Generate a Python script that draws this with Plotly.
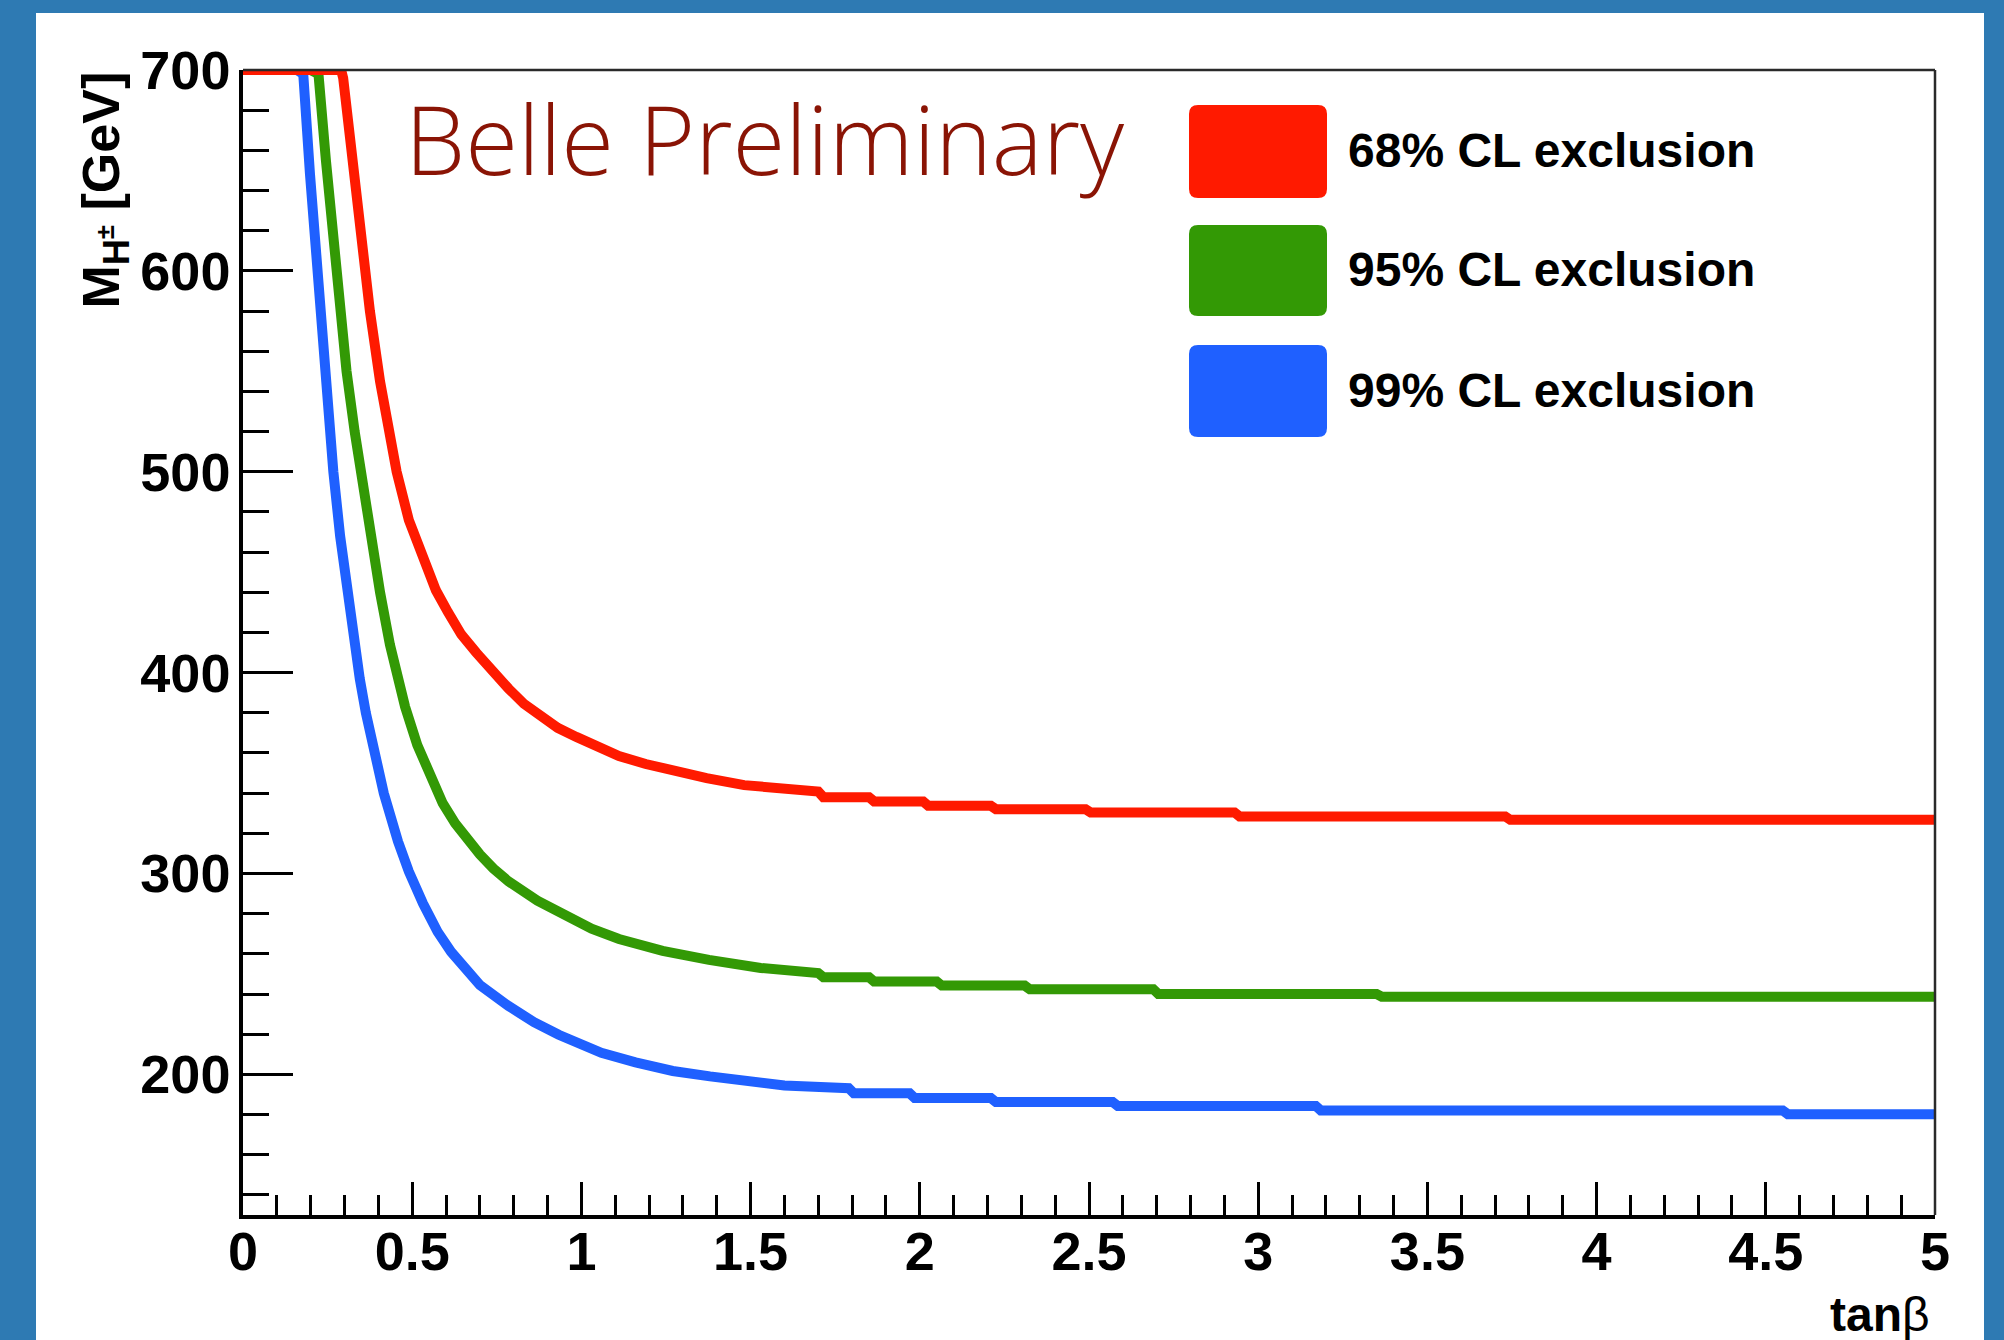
import plotly.graph_objects as go

# Exclusion contours in the (tanβ, M_H±) plane
tanb_68 = [0, 0.28, 0.29, 0.296, 0.316, 0.336, 0.355, 0.375, 0.405, 0.43, 0.454, 0.49,
           0.533, 0.57, 0.606, 0.645, 0.689, 0.74, 0.785, 0.83, 0.88, 0.93, 0.985, 1.05,
           1.111, 1.19, 1.27, 1.37, 1.481, 1.59, 1.70, 1.715, 1.85, 1.865, 2.01, 2.025,
           2.21, 2.225, 2.49, 2.505, 2.93, 2.945, 3.73, 3.745, 5.0]
mass_68 = [700, 700, 700, 696, 665, 634, 606, 580, 545, 521, 500, 476,
           456, 441, 430, 419, 410, 400, 392, 384.5, 378, 372.5, 368, 363,
           358.5, 354.5, 351, 347.5, 344, 342, 340.8, 338, 338, 335.9, 335.9, 333.7,
           333.7, 332, 332, 330.4, 330.4, 328.4, 328.4, 326.7, 326.7]

tanb_95 = [0.20, 0.223, 0.245, 0.267, 0.287, 0.306, 0.33, 0.356, 0.38, 0.405, 0.434,
           0.479, 0.515, 0.553, 0.59, 0.627, 0.665, 0.70, 0.74, 0.785, 0.87, 0.954,
           1.03, 1.111, 1.24, 1.377, 1.53, 1.70, 1.715, 1.85, 1.865, 2.05, 2.065, 2.31,
           2.325, 2.69, 2.705, 3.35, 3.365, 5.0]
mass_95 = [700, 698, 655, 612, 578, 550, 520, 490, 464, 440, 414,
           383, 364, 348, 335, 325, 316.5, 309.5, 302.5, 296, 286.5, 278.4,
           272.5, 267.4, 261.5, 257, 253, 250.4, 248.4, 248.4, 246.2, 246.2, 244.2, 244.2,
           242.4, 242.4, 240, 240, 238.7, 238.7]

tanb_99 = [0.16, 0.178, 0.198, 0.218, 0.232, 0.247, 0.267, 0.287, 0.306, 0.326, 0.345,
           0.363, 0.39, 0.416, 0.458, 0.49, 0.532, 0.575, 0.615, 0.66, 0.70, 0.785,
           0.86, 0.933, 1.0, 1.059, 1.16, 1.27, 1.38, 1.481, 1.60, 1.79, 1.805, 1.97,
           1.985, 2.21, 2.225, 2.57, 2.585, 3.17, 3.185, 4.55, 4.565, 5.0]
mass_99 = [700, 698, 648, 600, 568, 537, 500, 468, 443, 418, 397,
           380, 358, 340, 316, 301, 285, 271, 261, 252, 244.5, 234,
           226, 219.7, 215, 210.7, 206, 201.7, 199, 196.7, 194.5, 193.1, 190.6, 190.6,
           188.2, 188.2, 186.2, 186.2, 184.3, 184.3, 182, 182, 180.2, 180.2]

series_names = ["68% CL exclusion", "95% CL exclusion", "99% CL exclusion"]
series_colors = ["#ff1a00", "#339905", "#1f60ff"]

x_ticks = [0, 0.5, 1, 1.5, 2, 2.5, 3, 3.5, 4, 4.5, 5]
x_tick_text = ["0", "0.5", "1", "1.5", "2", "2.5", "3", "3.5", "4", "4.5", "5"]
y_ticks = [200, 300, 400, 500, 600, 700]

W, H = 2004, 1340
L, R, T, B = 243, 1935, 70, 1215


def px(X):
    return (X - L) / (R - L)


def py(Y):
    return (B - Y) / (B - T)


def rounded_box(x0, y0, x1, y1, r):
    """SVG path (paper coords) for a rounded rectangle given in pixels."""
    pts = [
        f"M {px(x0 + r)},{py(y0)}",
        f"L {px(x1 - r)},{py(y0)}",
        f"Q {px(x1)},{py(y0)} {px(x1)},{py(y0 + r)}",
        f"L {px(x1)},{py(y1 - r)}",
        f"Q {px(x1)},{py(y1)} {px(x1 - r)},{py(y1)}",
        f"L {px(x0 + r)},{py(y1)}",
        f"Q {px(x0)},{py(y1)} {px(x0)},{py(y1 - r)}",
        f"L {px(x0)},{py(y0 + r)}",
        f"Q {px(x0)},{py(y0)} {px(x0 + r)},{py(y0)}",
        "Z",
    ]
    return " ".join(pts)


fig = go.Figure()

curves = [(tanb_99, mass_99, 2), (tanb_95, mass_95, 1), (tanb_68, mass_68, 0)]
for xs, ys, i in curves:
    fig.add_trace(go.Scatter(
        x=xs, y=ys, mode="lines", name=series_names[i],
        line=dict(color=series_colors[i], width=10, shape="linear"),
        showlegend=False, hoverinfo="skip",
    ))

tick_font = dict(family="Liberation Sans, Arial, sans-serif", size=54, color="black", weight="bold")

fig.update_xaxes(
    range=[0, 5], tickmode="array", tickvals=x_ticks, ticktext=x_tick_text,
    ticks="inside", ticklen=33, tickwidth=2.5, tickcolor="black",
    minor=dict(dtick=0.1, tick0=0, ticks="inside", ticklen=20, tickwidth=2.5, tickcolor="black"),
    showline=True, linewidth=3.5, linecolor="black", mirror=False,
    showgrid=False, zeroline=False, tickfont=tick_font, ticklabelstandoff=-14,
)
fig.update_yaxes(
    range=[130, 700], tickmode="array", tickvals=y_ticks,
    ticks="inside", ticklen=50, tickwidth=2.5, tickcolor="black",
    minor=dict(dtick=20, tick0=0, ticks="inside", ticklen=26, tickwidth=2.5, tickcolor="black"),
    showline=True, linewidth=3.5, linecolor="black", mirror=False,
    showgrid=False, zeroline=False, tickfont=tick_font, ticklabelstandoff=-2,
)

shapes = [
    # white canvas panel behind the frame
    dict(type="rect", xref="paper", yref="paper",
         x0=px(36), x1=px(1984), y0=py(1345), y1=py(13),
         fillcolor="white", line=dict(width=0), layer="below"),
    # thinner top and right frame edges
    dict(type="line", xref="paper", yref="paper", x0=0, x1=1, y0=1, y1=1,
         line=dict(color="#2a2a2a", width=2.5)),
    dict(type="line", xref="paper", yref="paper", x0=1, x1=1, y0=0, y1=1,
         line=dict(color="#2a2a2a", width=2.5)),
]
legend_rows = [(105, 198), (225, 316), (345, 437)]
for (y0, y1), col in zip(legend_rows, series_colors):
    shapes.append(dict(type="path", xref="paper", yref="paper",
                       path=rounded_box(1189, y0, 1327, y1, 9),
                       fillcolor=col, line=dict(width=0)))

annotations = []
for (y0, y1), name in zip(legend_rows, series_names):
    annotations.append(dict(
        xref="paper", yref="paper", x=px(1346), y=py((y0 + y1) / 2 - 1),
        xanchor="left", yanchor="middle", showarrow=False, text=name,
        font=dict(family="Liberation Sans, Arial, sans-serif", size=48, color="black", weight="bold"),
    ))

annotations.append(dict(
    xref="paper", yref="paper", x=px(403), y=py(137),
    xanchor="left", yanchor="middle", showarrow=False, text="Belle Preliminary",
    font=dict(family="Open Sans, sans-serif", size=96, color="#8a1405", weight=300),
))

annotations.append(dict(
    xref="paper", yref="paper", x=px(1932), y=py(1314),
    xanchor="right", yanchor="middle", showarrow=False, text="<b>tan</b>β",
    font=dict(family="Liberation Sans, Arial, sans-serif", size=48, color="black"),
))

annotations.append(dict(
    xref="paper", yref="paper", x=px(104), y=py(70),
    xanchor="center", yanchor="top", showarrow=False, textangle=-90,
    text="<b>M<sub>H<sup>±</sup></sub> [GeV]</b>",
    font=dict(family="Liberation Sans, Arial, sans-serif", size=52, color="black"),
))

fig.update_layout(
    width=W, height=H, autosize=False,
    margin=dict(l=L, r=W - R, t=T, b=H - B, pad=0),
    paper_bgcolor="#2e7ab3", plot_bgcolor="white",
    shapes=shapes, annotations=annotations,
)

fig.write_html("out.html")
